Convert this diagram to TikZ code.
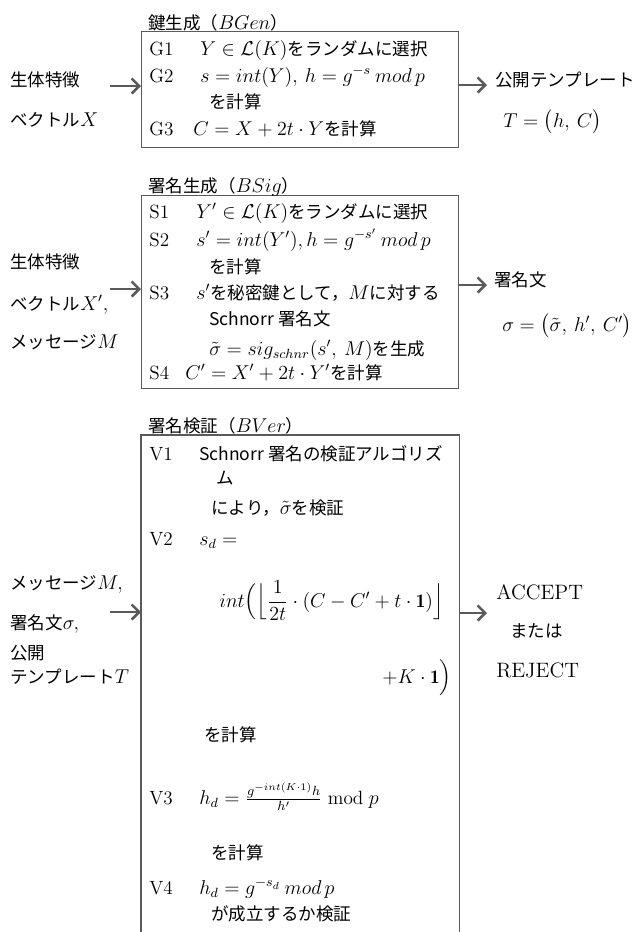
\documentclass[tikz,border=0pt]{standalone}
\usepackage{fontspec}
\usepackage{amsmath}
\newfontfamily\jpfont{Noto Sans CJK JP}
\DeclareMathSizes{10.5}{11.5}{8.5}{6.5}
\definecolor{linegray}{HTML}{5A5A5A}
\usetikzlibrary{arrows.meta}

\tikzset{
	jp/.style={anchor=base west, inner sep=0pt, font=\jpfont\fontsize{10.5}{12.6}\selectfont},
	stepno/.style={anchor=base west, inner sep=0pt, font=\fontsize{11.5}{13.8}\selectfont},
	result/.style={anchor=base west, inner sep=0pt, font=\fontsize{12.5}{15}\selectfont},
	blockbox/.style={anchor=north west, draw=linegray, line width=0.8pt, minimum width=190.2pt, inner sep=0pt},
	flowarrow/.style={-{Straight Barb[length=4.5pt,width=9pt]}, draw=linegray, line width=1.5pt},
}

\begin{document}
\begin{tikzpicture}[x=0.6pt, y=-0.6pt]

	\useasboundingbox (0,0) rectangle (640,932);

	% key generation
	\node (bgen) [blockbox, minimum height=69.6pt] at (141,31) {};
	\node (bgenlbl) [jp] at (148,29) {鍵生成（$BGen$）};
	\node (g1) [stepno] at (149,55) {G1};
	\node (g1txt) [jp] at (200,55) {$Y\in\mathcal{L}(K)$をランダムに選択};
	\node (g2) [stepno] at (149,82) {G2};
	\node (g2txt) [jp] at (200,82) {$s=int(Y),\ h=g^{-s}\ mod\,p$};
	\node (g2b) [jp] at (209,108) {を計算};
	\node (g3) [stepno] at (149,135) {G3};
	\node (g3txt) [jp] at (193,135) {$C=X+2t\cdot Y$を計算};

	\node (gin1) [jp] at (10,86) {生体特徴};
	\node (gin2) [jp] at (10,126) {ベクトル$X$};
	\node (gout1) [jp] at (495,86) {公開テンプレート};
	\node (gout2) [jp] at (503,127) {$T=\bigl(h,\ C\bigr)$};

	\coordinate (gin) at (110,86);
	\coordinate (gout) at (487,85);
	\draw [flowarrow] (gin) -- (gin -| bgen.west);
	\draw [flowarrow] (gout -| bgen.east) -- (gout);

	% signature generation
	\node (bsig) [blockbox, minimum height=115.8pt] at (141,195) {};
	\node (bsiglbl) [jp] at (148,192) {署名生成（$BSig$）};
	\node (s1) [stepno] at (149,218) {S1};
	\node (s1txt) [jp] at (196,218) {$Y'\in\mathcal{L}(K)$をランダムに選択};
	\node (s2) [stepno] at (149,246) {S2};
	\node (s2txt) [jp] at (196,246) {$s'=int(Y'),h=g^{-s'}\ mod\,p$};
	\node (s2b) [jp] at (209,273) {を計算};
	\node (s3) [stepno] at (149,299) {S3};
	\node (s3txt) [jp] at (196,299) {$s'$を秘密鍵として，$M$に対する};
	\node (s3b) [jp] at (209,325) {Schnorr 署名文};
	\node (s3c) [jp] at (209,355) {$\tilde{\sigma}=sig_{schnr}(s',\ M)$を生成};
	\node (s4) [stepno] at (149,379) {S4};
	\node (s4txt) [jp] at (185,379) {$C'=X'+2t\cdot Y'$を計算};

	\node (sin1) [jp] at (10,268) {生体特徴};
	\node (sin2) [jp] at (10,310) {ベクトル$X',$};
	\node (sin3) [jp] at (10,348) {メッセージ$M$};
	\node (sout1) [jp] at (494,286) {署名文};
	\node (sout2) [jp] at (502,331) {$\sigma=\bigl(\tilde{\sigma},\ h',\ C'\bigr)$};

	\coordinate (sin) at (110,289);
	\coordinate (sout) at (487,285);
	\draw [flowarrow] (sin) -- (sin -| bsig.west);
	\draw [flowarrow] (sout -| bsig.east) -- (sout);

	% signature verification (open at the bottom)
	\node (bver) [blockbox, draw=none, minimum height=298.2pt] at (141,435) {};
	\draw [linegray, line width=0.8pt] (bver.south west) -- (bver.north west) -- (bver.north east) -- (bver.south east);
	\node (bverlbl) [jp] at (148,432) {署名検証（$BVer$）};
	\node (v1) [stepno] at (149,460) {V1};
	\node (v1txt) [jp] at (199,460) {Schnorr 署名の検証アルゴリズ};
	\node (v1b) [jp] at (216,484) {ム};
	\node (v1c) [jp] at (211,514) {により，$\tilde{\sigma}$を検証};
	\node (v2) [stepno] at (149,545) {V2};
	\node (v2txt) [jp] at (199,545) {$s_d=$};
	\node (v2b) [jp] at (219,607) {$int\Bigl(\Bigl\lfloor\dfrac{1}{2t}\cdot(C-C'+t\cdot\mathbf{1})\Bigr\rfloor$};
	\node (v2c) [jp, anchor=base east] at (452,683) {$+K\cdot\mathbf{1}\Bigr)$};
	\node (v2d) [jp] at (204,741) {を計算};
	\node (v3) [stepno] at (149,804) {V3};
	\node (v3txt) [jp] at (199,804) {$h_d=\frac{g^{-int(K\cdot 1)}h}{h'}\bmod p$};
	\node (v3b) [jp] at (211,859) {を計算};
	\node (v4) [stepno] at (149,894) {V4};
	\node (v4txt) [jp] at (199,894) {$h_d=g^{-s_d}\ mod\,p$};
	\node (v4b) [jp] at (211,920) {が成立するか検証};

	\node (vin1) [jp] at (10,589) {メッセージ$M,$};
	\node (vin2) [jp] at (10,629) {署名文$\sigma,$};
	\node (vin3) [jp] at (10,659) {公開};
	\node (vin4) [jp] at (10,683) {テンプレート$T$};
	\node (vout1) [result] at (496,599) {ACCEPT};
	\node (vout2) [jp] at (510,637) {または};
	\node (vout3) [result] at (496,677) {REJECT};

	\coordinate (vin) at (110,612);
	\coordinate (vout) at (487,613);
	\draw [flowarrow] (vin) -- (vin -| bver.west);
	\draw [flowarrow] (vout -| bver.east) -- (vout);

\end{tikzpicture}
\end{document}
